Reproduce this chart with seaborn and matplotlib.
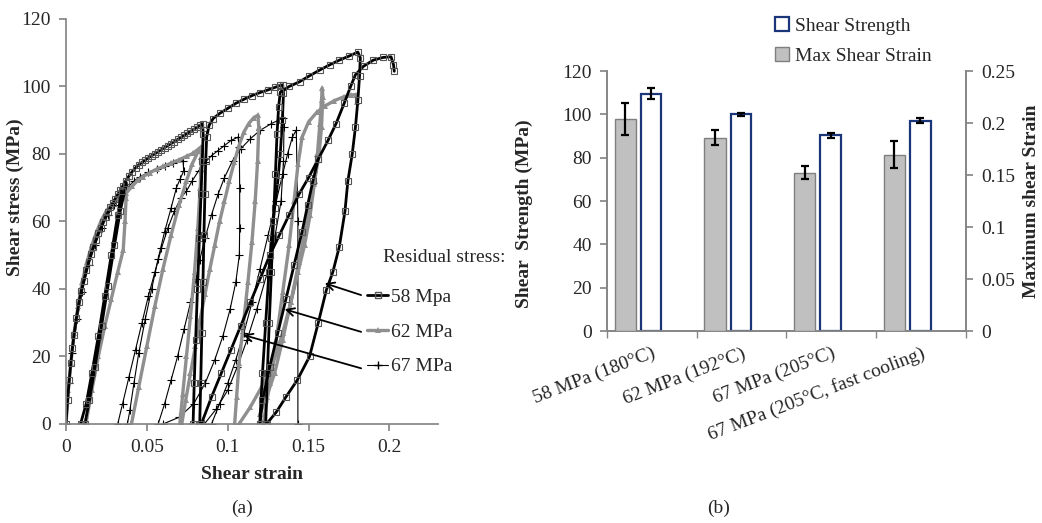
import numpy as np
import pandas as pd
import matplotlib
matplotlib.use("Agg")
import matplotlib.pyplot as plt
from matplotlib.lines import Line2D
from matplotlib.patches import Patch
import seaborn as sns

nan = np.nan

# (a) cyclic shear curves, NaN separates the separate loops of one specimen
strain_58 = [0, 0.001, 0.002, 0.003, 0.004, 0.005, 0.0065, 0.008, 0.0095, 0.011, 0.0125, 0.014, 0.0155,
             0.017, 0.0185, 0.020, 0.0215, 0.023, 0.0245, 0.026, 0.0275, 0.029, 0.0305, 0.032, 0.0335,
             0.035, 0.037, 0.039, 0.041, 0.043, 0.045, 0.047, 0.049, 0.051, 0.053, 0.055, 0.057, 0.059,
             0.061, 0.063, 0.065, 0.067, 0.069, 0.071, 0.073, 0.075, 0.077, 0.079, 0.081, 0.083, 0.0845,
             0.0848, 0.0843, 0.0835, 0.0825, 0.0813, 0.0802, 0.0793, 0.0786, nan,
             0.0345, 0.032, 0.028, 0.024, 0.020, 0.016, 0.0125, 0.009, 0.0117, 0.0145, 0.018, 0.022, 0.026,
             0.030, 0.0335, 0.0374, nan,
             0.0827, 0.0833, 0.0840, 0.0847, 0.0853, 0.0859, 0.0864, 0.0870, 0.0885, 0.091, 0.095, 0.100,
             0.105, 0.110, 0.115, 0.120, 0.125, 0.129, 0.1325, 0.134, 0.1345, 0.1338, 0.1325, 0.131, 0.129,
             0.127, 0.1255, 0.1235, 0.1215, 0.1198, nan,
             0.1235, 0.1245, 0.1257, 0.127, 0.1283, 0.1295, 0.1305, 0.1315, 0.1325, 0.138, 0.1444, 0.150,
             0.157, 0.163, 0.169, 0.175, 0.1805, 0.182, 0.1815, 0.1805, 0.179, 0.177, 0.1743, 0.1725, 0.169,
             0.165, 0.161, 0.156, 0.1506, 0.143, 0.136, 0.130, 0.124, nan,
             0.0837, 0.090, 0.096, 0.102, 0.108, 0.114, 0.120, 0.126, 0.132, 0.138, 0.144, 0.150, 0.156,
             0.162, 0.167, 0.172, 0.176, 0.179, 0.184, 0.190, 0.196, 0.201, 0.2025, 0.203, nan,
             0.120, 0.1215, 0.126, 0.131, 0.136, 0.141, 0.146, 0.1495, 0.1527, 0.156]
stress_58 = [0, 7, 13, 18, 22.5, 26.5, 31.5, 36, 39.5, 42.5, 45.5, 48, 50.5,
             52.5, 54.5, 56.5, 58, 59.8, 61.4, 62.8, 64.2, 65.5, 66.8, 68, 69.2,
             70.4, 72, 73.5, 74.8, 75.9, 76.8, 77.5, 78.2, 78.9, 79.5, 80.1, 80.7, 81.3,
             81.9, 82.5, 83.1, 83.7, 84.3, 84.9, 85.5, 86.1, 86.7, 87.3, 87.9, 88.5, 89,
             86, 78, 68, 55, 40, 25, 12, 0, nan,
             69, 62, 50, 38, 26, 15, 6, 0, 0, 7, 17, 29, 41,
             53, 63, 71.4, nan,
             0, 12, 27, 42, 56, 68, 78, 85, 88.5, 90.5, 92, 93.5,
             95, 96.2, 97.3, 98.2, 99, 99.7, 100.3, 100.5, 98, 90, 80, 72, 64,
             55, 45, 30, 15, 0, nan,
             0, 15, 30, 45, 60, 74, 86, 94, 98.3, 100, 101.4, 103,
             104.9, 106.4, 107.8, 109, 110.2, 108.5, 103, 96, 88, 80, 72, 63, 52.5,
             45, 39.7, 30, 20, 13, 8, 3.5, 0, nan,
             0, 8, 15, 22, 29, 36, 43, 50, 56, 62, 68, 73, 78.5,
             84, 89, 95, 100, 103.5, 106, 107.8, 108.6, 108.8, 106.5, 104.5, nan,
             0, 7, 17, 27, 37, 47, 57, 65, 72, 78.5]

strain_62 = [0, 0.0015, 0.003, 0.005, 0.0075, 0.010, 0.013, 0.016, 0.019, 0.022, 0.025, 0.028, 0.031, 0.034,
             0.0374, 0.041, 0.0445, 0.0477, 0.052, 0.056, 0.060, 0.065, 0.070, 0.075, 0.0786, 0.082, 0.0835,
             0.0838, 0.083, 0.0815, 0.0795, 0.077, 0.0745, 0.0722, 0.0704, nan,
             0.0716, 0.074, 0.077, 0.080, 0.083, 0.086, 0.089, 0.092, 0.095, 0.098, 0.101, 0.104, 0.107,
             0.110, 0.113, 0.116, 0.1187, 0.1192, 0.1185, 0.117, 0.115, 0.1125, 0.1098, 0.107, 0.1055,
             0.1043, nan,
             0.107, 0.114, 0.121, 0.128, 0.134, 0.139, 0.1435, 0.1475, 0.151, 0.1535, 0.1555, 0.157, 0.158,
             0.1585, 0.1588, 0.158, 0.1565, 0.1537, 0.149, 0.144, 0.139, 0.134, 0.129, 0.124, 0.120, nan,
             0.0376, 0.0372, 0.0365, 0.0354, 0.032, 0.028, 0.024, 0.020, 0.016, 0.0123, nan,
             0.0405, 0.045, 0.050, 0.055, 0.060, 0.065, 0.070, 0.0745, 0.078, 0.082, nan,
             0.122, 0.126, 0.130, 0.134, 0.138, 0.141, 0.1435, 0.146, 0.150, 0.155, 0.160, 0.166, 0.172,
             0.1765, 0.1794, 0.180]
stress_62 = [0, 10, 18, 27, 35, 42, 48, 53, 57, 60.5, 63, 65, 66.5, 67.5,
             68.5, 70.5, 72.2, 73.3, 74.5, 75.5, 76.3, 77.3, 78.3, 79.4, 80.2, 81.5, 82,
             79, 70, 58, 45, 32, 20, 9, 0, nan,
             0, 7, 15, 23, 31, 38.5, 46, 53, 60, 66, 72, 77.5, 82.5,
             86.5, 89, 90.7, 91.5, 88, 78, 66, 54, 42, 30, 18, 8,
             0, nan,
             0, 5, 11, 18, 27, 36, 45, 53, 62, 71, 80, 89, 96,
             99.5, 97, 88, 80, 72, 60, 48, 36, 25, 15, 8, 3, nan,
             70, 67, 60, 51.5, 45, 37, 29, 20, 10, 0, nan,
             0, 11, 23, 35, 46, 56, 65, 72, 77, 81, nan,
             0, 12, 25, 39, 53, 66, 77, 85, 89.5, 92.3, 94.2, 95.8, 97,
             97.5, 97.6, 95.5]

strain_67 = [0, 0.002, 0.004, 0.007, 0.010, 0.014, 0.018, 0.022, 0.026, 0.030, 0.034, 0.038, 0.042, 0.046,
             0.051, 0.056, 0.061, 0.066, 0.0724, 0.0728, 0.0705, 0.0683, 0.065, 0.061, 0.057, 0.053,
             0.049, 0.045, 0.042, 0.0395, 0.038, nan,
             0.032, 0.035, 0.039, 0.043, 0.047, 0.051, 0.055, 0.059, 0.063, 0.067, 0.071, 0.0745, 0.078,
             0.082, 0.086, 0.090, 0.094, 0.098, 0.102, 0.1064, 0.1072, 0.1074, 0.1074, 0.1072, 0.105,
             0.1015, 0.097, 0.092, 0.086, 0.079, 0.070, 0.060, nan,
             0.057, 0.061, 0.065, 0.069, 0.073, 0.077, 0.0805, 0.0827, 0.086, 0.090, 0.094, 0.098, 0.103,
             0.108, 0.114, 0.120, 0.127, 0.134, 0.1348, 0.1345, 0.133, 0.129, 0.124, 0.118, 0.112, 0.106,
             0.100, 0.093, 0.0856, nan,
             0.090, 0.095, 0.100, 0.105, 0.110, 0.115, 0.120, 0.125, 0.130, 0.134, 0.137, 0.140, 0.1424,
             0.1434, 0.1434]
stress_67 = [0, 12, 21, 31, 39, 47, 53, 58, 62, 65, 67.5, 70, 72, 73.3,
             74.6, 75.6, 76.5, 77.2, 78, 75, 72.5, 70, 64, 57, 49, 40,
             31, 21, 12, 4, 0, nan,
             0, 6, 14, 22, 30, 38, 45, 52, 58, 63, 67, 69, 72,
             75, 77.5, 79.5, 81, 82.5, 84, 85, 82, 70, 58, 50, 42,
             34, 26, 19, 12, 6, 2, 0, nan,
             0, 6, 13, 20, 28, 36, 43, 48.6, 55, 62, 68, 73, 78,
             81.5, 84.5, 87, 89, 90.6, 88, 78, 66, 55, 44, 34, 25, 17,
             10, 4.5, 0, nan,
             0, 6, 12, 19, 27, 36, 46, 56, 66, 74, 80, 85, 87.1,
             60, 0]

# (b) bar chart
conditions = ["58 MPa (180°C)", "62 MPa (192°C)", "67 MPa (205°C)", "67 MPa (205°C, fast cooling)"]
shear_strength = [109.5, 100.0, 90.3, 97.2]
shear_strength_err = [2.5, 0.9, 1.1, 1.3]
max_shear_strain = [0.204, 0.186, 0.1525, 0.1695]
max_shear_strain_err = [0.0155, 0.0075, 0.0067, 0.013]


def loops(strain, stress):
    df = pd.DataFrame({"strain": strain, "stress": stress})
    df["loop"] = df["strain"].isna().cumsum()
    return df.dropna()


sns.set_theme(style="white")
plt.rcParams["font.family"] = ["Liberation Serif", "DejaVu Serif"]
plt.rcParams["font.size"] = 14
FS = 14

fig = plt.figure(figsize=(10.42, 5.23), dpi=100)
spine_col = "#868686"

# ---------------- (a) ----------------
ax1 = fig.add_axes([0.0633, 0.1893, 0.3570, 0.7744])
sns.lineplot(data=loops(strain_67, stress_67), x="strain", y="stress", units="loop", estimator=None,
             sort=False, color="black", lw=0.8, marker="+", ms=6, mew=0.8, mec="black", ax=ax1)
sns.lineplot(data=loops(strain_62, stress_62), x="strain", y="stress", units="loop", estimator=None,
             sort=False, color="#8f8f8f", lw=2.4, marker="^", ms=4, mew=0, mfc="#8f8f8f", ax=ax1)
sns.lineplot(data=loops(strain_58, stress_58), x="strain", y="stress", units="loop", estimator=None,
             sort=False, color="black", lw=2.0, marker="s", ms=4.5, mew=0.8, mfc="none", mec="#555555",
             ax=ax1)

ax1.set_xlim(0, 0.23)
ax1.set_ylim(0, 120)
ax1.set_xticks([0, 0.05, 0.1, 0.15, 0.2])
ax1.set_xticklabels(["0", "0.05", "0.1", "0.15", "0.2"])
ax1.set_yticks(range(0, 121, 20))
ax1.set_xlabel("Shear strain", fontweight="bold", fontsize=FS)
ax1.set_ylabel("Shear stress (MPa)", fontweight="bold", fontsize=FS)
ax1.xaxis.set_label_coords(0.499, -0.104)
ax1.yaxis.set_label_coords(-0.112, 0.56)
for s in ["top", "right"]:
    ax1.spines[s].set_visible(False)
for s in ["left", "bottom"]:
    ax1.spines[s].set_color(spine_col)
ax1.tick_params(axis="both", which="both", direction="out", length=5, color=spine_col,
                labelsize=FS, left=True, bottom=True)
ax1.tick_params(axis="x", pad=6)
ax1.tick_params(axis="y", pad=6)

ax1.text(0.1963, 49.2, "Residual stress:", fontsize=FS, ha="left", va="center")
proxies = [Line2D([], [], color="black", lw=2.0, marker="s", ms=4, mfc="none", mec="#555555"),
           Line2D([], [], color="#8f8f8f", lw=2.4, marker="^", ms=4, mew=0),
           Line2D([], [], color="black", lw=0.8, marker="+", ms=6)]
ax1.legend(proxies, ["58 Mpa", "62 MPa", "67 MPa"], loc="center left", bbox_to_anchor=(0.1864, 27.3),
           bbox_transform=ax1.transData, frameon=False, fontsize=FS, handlelength=1.05,
           handletextpad=0.15, labelspacing=0.88, borderpad=0, borderaxespad=0)
arrow = dict(arrowstyle="->", color="black", lw=1.3, shrinkA=0, shrinkB=0)
ax1.annotate("", xy=(0.160, 41.7), xytext=(0.1825, 38.2), arrowprops=arrow)
ax1.annotate("", xy=(0.1352, 34.0), xytext=(0.1825, 27.3), arrowprops=arrow)
ax1.annotate("", xy=(0.1095, 26.4), xytext=(0.1825, 16.5), arrowprops=arrow)

# ---------------- (b) ----------------
ax2 = fig.add_axes([0.5825, 0.367, 0.3445, 0.497])
ax3 = ax2.twinx()
idx = np.arange(len(conditions))
ax2.bar(idx + 0.492, shear_strength, width=0.23, color="white", edgecolor="#1a3578", linewidth=1.6,
        yerr=shear_strength_err, error_kw=dict(ecolor="black", elinewidth=1.6, capsize=3, capthick=1.6),
        zorder=3)
ax3.bar(idx + 0.203, max_shear_strain, width=0.238, color="#c0c0c0", edgecolor="#7f7f7f", linewidth=1.0,
        yerr=max_shear_strain_err, error_kw=dict(ecolor="black", elinewidth=1.6, capsize=3, capthick=1.6),
        zorder=3)

ax2.set_xlim(0, 4)
ax2.set_ylim(0, 120)
ax3.set_ylim(0, 0.25)
ax2.set_yticks(range(0, 121, 20))
ax3.set_yticks([0, 0.05, 0.1, 0.15, 0.2, 0.25])
ax3.set_yticklabels(["0", "0.05", "0.1", "0.15", "0.2", "0.25"])
ax2.set_xticks(idx + 0.5)
ax2.set_xticklabels(conditions, rotation=21, ha="right", rotation_mode="anchor", fontsize=FS)
ax2.set_xticks(np.arange(0, 5), minor=True)
ax2.tick_params(axis="x", which="major", length=0, pad=10)
ax2.tick_params(axis="x", which="minor", length=5, color=spine_col, direction="out", bottom=True)
ax2.tick_params(axis="y", length=5, color=spine_col, direction="out", labelsize=FS, left=True, pad=6)
ax3.tick_params(axis="y", length=5, color=spine_col, direction="out", labelsize=FS, right=True, pad=6)
for a in [ax2, ax3]:
    a.spines["top"].set_visible(False)
    for s in ["left", "right", "bottom"]:
        a.spines[s].set_color(spine_col)
ax2.set_ylabel("Shear  Strength (MPa)", fontweight="bold", fontsize=FS)
ax2.yaxis.set_label_coords(-0.206, 0.45)
ax3.set_ylabel("Maximum shear Strain", fontweight="bold", fontsize=FS, rotation=90)
ax3.yaxis.set_label_coords(1.159, 0.5)

handles = [Patch(facecolor="white", edgecolor="#1a3578", linewidth=1.6),
           Patch(facecolor="#c0c0c0", edgecolor="#7f7f7f", linewidth=1.0)]
fig.legend(handles, ["Shear Strength", "Max Shear Strain"], loc="upper left",
           bbox_to_anchor=(0.729, 0.997), frameon=False, fontsize=FS, handlelength=0.7,
           handleheight=0.7, handletextpad=0.3, labelspacing=0.65, borderpad=0.3)

fig.text(0.2318, 0.0287, "(a)", fontsize=FS, ha="center", va="center")
fig.text(0.690, 0.0287, "(b)", fontsize=FS, ha="center", va="center")

fig.savefig("out.png", dpi=100)
